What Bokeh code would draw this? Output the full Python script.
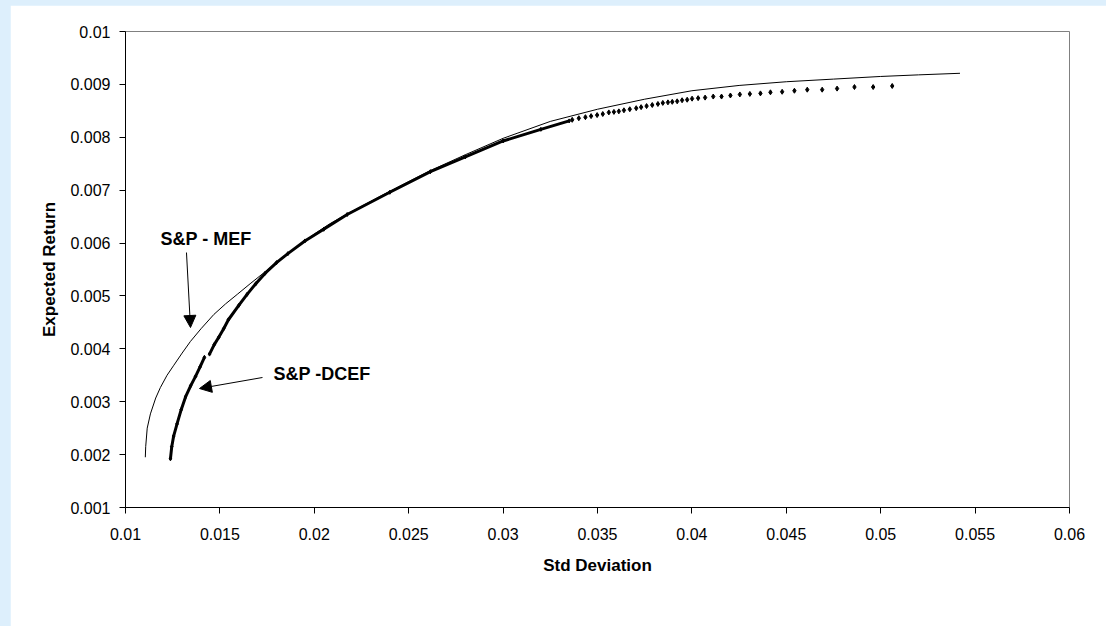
import math
from bokeh.plotting import figure
from bokeh.models import FixedTicker, Label, Arrow, NormalHead, Range1d
from bokeh.embed import file_html
from bokeh.resources import INLINE

# ---------------- data ----------------
x_ticks = [0.01, 0.015, 0.02, 0.025, 0.03, 0.035, 0.04, 0.045, 0.05, 0.055, 0.06]
x_tick_labels = ["0.01", "0.015", "0.02", "0.025", "0.03", "0.035", "0.04", "0.045", "0.05", "0.055", "0.06"]
y_ticks = [0.001, 0.002, 0.003, 0.004, 0.005, 0.006, 0.007, 0.008, 0.009, 0.01]
y_tick_labels = ["0.001", "0.002", "0.003", "0.004", "0.005", "0.006", "0.007", "0.008", "0.009", "0.01"]

# S&P - MEF (thin line)
mef_sd = [0.01105, 0.01107, 0.01115, 0.01132, 0.01160, 0.01185, 0.01220, 0.01256, 0.01300,
          0.01344, 0.01400, 0.01468, 0.01530, 0.01592, 0.01660, 0.01730, 0.01800, 0.01856,
          0.01930, 0.02000, 0.02080, 0.02174, 0.02400, 0.02615, 0.02800, 0.03000, 0.03250,
          0.03500, 0.03750, 0.04000, 0.04250, 0.04500, 0.04750, 0.05000, 0.05200, 0.05420]
mef_ret = [0.00195, 0.00215, 0.00250, 0.00277, 0.00307, 0.00327, 0.00350, 0.00369, 0.00392,
           0.00414, 0.00438, 0.00465, 0.00485, 0.00503, 0.00523, 0.00543, 0.00563, 0.00579,
           0.00599, 0.00617, 0.00636, 0.00655, 0.00698, 0.00737, 0.00767, 0.00798, 0.00830,
           0.00853, 0.00872, 0.00888, 0.00898, 0.00905, 0.00910, 0.00915, 0.00918, 0.00921]

# S&P - DCEF, densely packed points (nan = visible break in the trace)
nan = float("nan")
dcef_dense_sd = [0.01238, 0.01245, 0.01255, 0.01273, 0.01295, 0.01318, 0.01345, 0.01371, 0.01395,
                 0.01418, nan, 0.01445, 0.01470, 0.01494, 0.01520, 0.01545, 0.01600, 0.01644,
                 0.01690, 0.01740, 0.01800, 0.01860, 0.01950, 0.02050, 0.02174, 0.02400, 0.02615,
                 0.02800, 0.03000, 0.03200, 0.03350]
dcef_dense_ret = [0.00192, 0.00215, 0.00235, 0.00258, 0.00285, 0.00309, 0.00330, 0.00348, 0.00366,
                  0.00384, nan, 0.00390, 0.00408, 0.00422, 0.00438, 0.00455, 0.00482, 0.00503,
                  0.00523, 0.00543, 0.00563, 0.00580, 0.00604, 0.00626, 0.00654, 0.00696, 0.00735,
                  0.00763, 0.00793, 0.00815, 0.00831]

# S&P - DCEF, sparse upper points
dcef_sd = [0.03366, 0.03401, 0.03436, 0.03466, 0.03498, 0.03528, 0.03560, 0.03587, 0.03613, 0.03640,
           0.03671, 0.03705, 0.03731, 0.03760, 0.03790, 0.03820, 0.03846, 0.03873, 0.03896, 0.03922,
           0.03948, 0.03975, 0.04001, 0.04033, 0.04070, 0.04113, 0.04157, 0.04204, 0.04254, 0.04307,
           0.04363, 0.04416, 0.04478, 0.04543, 0.04611, 0.04690, 0.04769, 0.04861, 0.04960, 0.05061]
dcef_ret = [0.00833, 0.00836, 0.00838, 0.00840, 0.00842, 0.00844, 0.00847, 0.00848, 0.00849, 0.00851,
            0.00853, 0.00855, 0.00857, 0.00859, 0.00861, 0.00863, 0.00865, 0.00866, 0.00867, 0.00868,
            0.00870, 0.00871, 0.00873, 0.00874, 0.00875, 0.00877, 0.00877, 0.00879, 0.00881, 0.00882,
            0.00883, 0.00885, 0.00886, 0.00888, 0.00890, 0.00890, 0.00892, 0.00895, 0.00895, 0.00897]

FONT = "Liberation Sans"

# ---------------- figure ----------------
p = figure(width=1096, height=621,
           x_range=Range1d(0.01, 0.06), y_range=Range1d(0.001, 0.01),
           output_backend="svg", toolbar_location=None,
           min_border_left=115, min_border_right=37, min_border_top=26, min_border_bottom=119,
           background_fill_color="white", border_fill_color="white")
p.margin = (5, 0, 0, 10)
p.outline_line_color = "#808080"
p.outline_line_width = 1
p.xgrid.visible = False
p.ygrid.visible = False

for ax, ticks, labels in ((p.xaxis, x_ticks, x_tick_labels), (p.yaxis, y_ticks, y_tick_labels)):
    ax.ticker = FixedTicker(ticks=ticks)
    ax.major_label_overrides = dict(zip(ticks, labels))
    ax.axis_line_color = "black"
    ax.major_tick_line_color = "black"
    ax.major_tick_in = 0
    ax.major_tick_out = 6
    ax.minor_tick_line_color = None
    ax.major_label_text_font = FONT
    ax.major_label_text_font_size = "16px"
    ax.major_label_text_color = "black"
    ax.axis_label_text_font = FONT
    ax.axis_label_text_font_size = "17px"
    ax.axis_label_text_font_style = "bold"
    ax.axis_label_text_color = "black"

p.xaxis.axis_label = "Std Deviation"
p.yaxis.axis_label = "Expected Return"
p.xaxis.major_label_standoff = 14
p.yaxis.major_label_standoff = 9
p.xaxis.axis_label_standoff = 13
p.yaxis.axis_label_standoff = 8

# MEF curve
p.line(mef_sd, mef_ret, line_color="black", line_width=1)

# DCEF points
p.line(dcef_dense_sd, dcef_dense_ret, line_color="black", line_width=3)
p.scatter(dcef_dense_sd, dcef_dense_ret, marker="diamond", size=4, color="black")
p.scatter(dcef_sd, dcef_ret, marker="diamond", size=5, color="black")

# annotations
p.add_layout(Label(x=0.014264, y=0.006077, text="S&P - MEF", text_font=FONT,
                   text_font_style="bold", text_font_size="18px", text_align="center",
                   text_baseline="middle", text_color="black"))
p.add_layout(Arrow(end=NormalHead(size=12, fill_color="black", line_color="black"),
                   x_start=0.01323, y_start=0.005821, x_end=0.013443, y_end=0.004403,
                   line_color="black", line_width=1))
p.add_layout(Label(x=0.017839, y=0.003524, text="S&P -DCEF", text_font=FONT,
                   text_font_style="bold", text_font_size="18px", text_align="left",
                   text_baseline="middle", text_color="black"))
p.add_layout(Arrow(end=NormalHead(size=12, fill_color="black", line_color="black"),
                   x_start=0.017256, y_start=0.003458, x_end=0.013919, y_end=0.00325,
                   line_color="black", line_width=1))

html = file_html(p, INLINE, title="S&P efficient frontiers")
html = html.replace("<head>", "<head><style>html,body{margin:0;padding:0;background:#DDEFFC;overflow:hidden;}</style>", 1)
open("out.html", "w").write(html)
